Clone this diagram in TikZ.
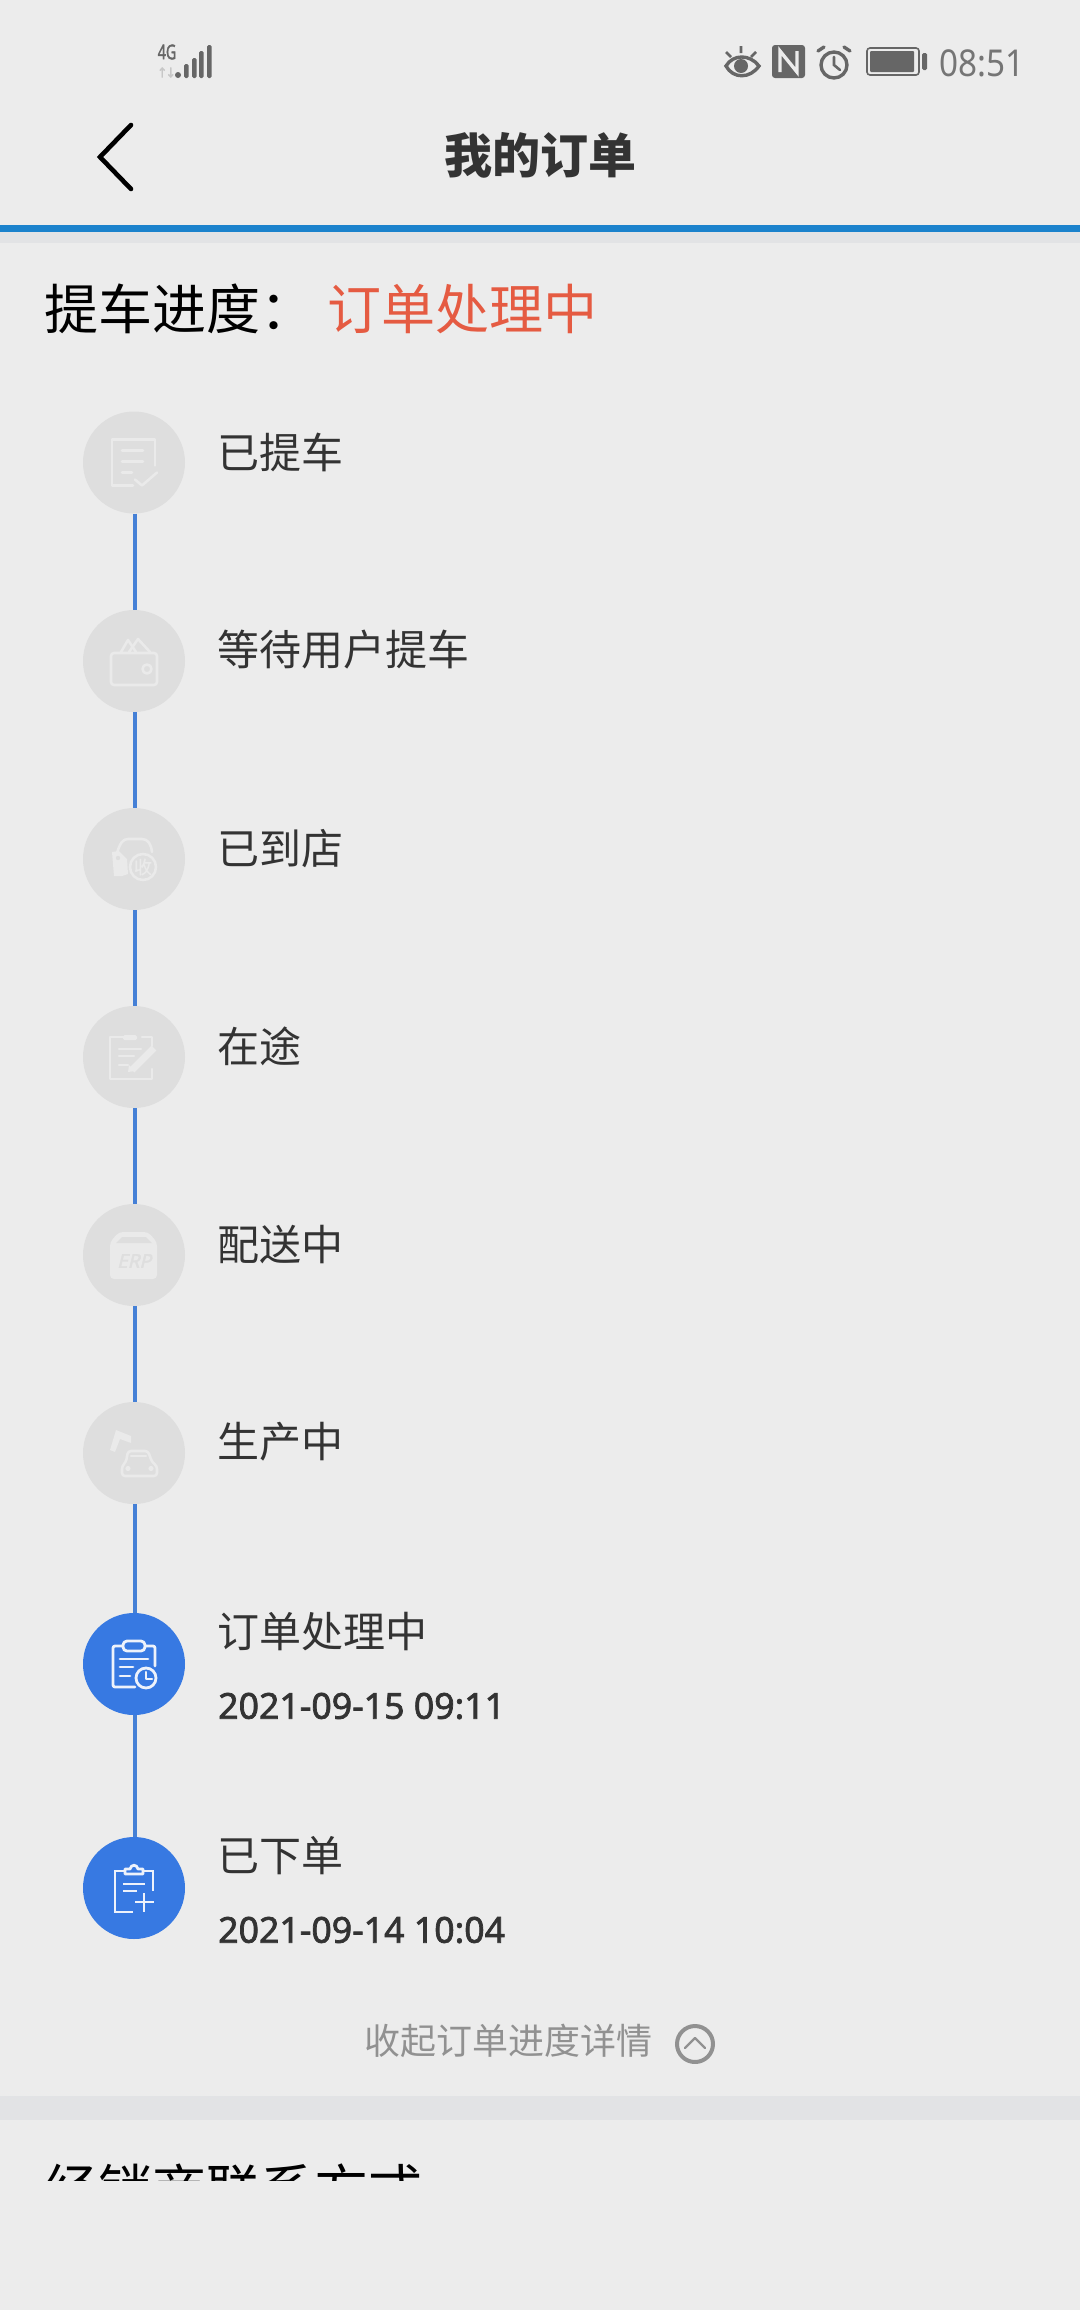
\documentclass[tikz,border=0pt]{standalone}
\usepackage{fontspec}
\setmainfont{Noto Sans CJK SC}
\newfontfamily\latinf{Noto Sans}
\newfontfamily\latinm{Noto Sans}[FakeBold=2]
\newfontfamily\latinerp{Noto Sans}[FakeBold=2,FakeSlant=0.25]
\newfontfamily\symbf{DejaVu Sans}[FakeBold=1.5]
\newfontfamily\sealf{Noto Sans CJK SC}[FakeBold=1]
\newcommand{\fs}[1]{\fontsize{#1}{#1}\selectfont}
\definecolor{bg}{HTML}{ECECEC}
\definecolor{band}{HTML}{E2E3E5}
\definecolor{topline}{HTML}{1B82CC}
\definecolor{doneblue}{HTML}{3779E2}
\definecolor{lineblue}{HTML}{4580D6}
\definecolor{pend}{HTML}{DEDEDE}
\definecolor{pendicon}{HTML}{EAEAEA}
\definecolor{donicon}{HTML}{EDF2FB}
\definecolor{txt}{HTML}{333333}
\definecolor{stat}{HTML}{666666}
\definecolor{redtxt}{HTML}{E55B42}
\tikzset{
  pendnode/.style={circle,fill=pend,minimum size=102pt,inner sep=0pt},
  donenode/.style={circle,fill=doneblue,minimum size=102pt,inner sep=0pt},
  tl/.style={draw=lineblue,line width=3.4pt},
  label/.style={anchor=west,inner sep=0pt,text=txt,font=\fs{42}},
  datelabel/.style={anchor=west,inner sep=0pt,text=txt,font=\latinm\fs{35.7}},
  ipen/.style={draw=pendicon,line width=2.6pt,line cap=round,line join=round},
  idone/.style={draw=donicon,line width=2.8pt,line cap=round,line join=round},
}
\begin{document}
\begin{tikzpicture}[x=1pt,y=-1pt]
\useasboundingbox (0,0) rectangle (1080,2310);
\fill[bg] (0,0) rectangle (1080,2310);
% header rules
\fill[band] (0,232) rectangle (1080,243);
\fill[topline] (0,225) rectangle (1080,232);
\fill[band] (0,2096) rectangle (1080,2120);

% status bar left
\node[inner sep=0pt,text=stat,font=\latinm\fs{15}] (fourg) at (167,52) {\scalebox{0.95}[1.35]{4G}};
\node[inner sep=0pt,text=black!22,font=\symbf\fs{13}] (updown) at (166.5,72.5) {\scalebox{0.95}[1.05]{↑\kern-2pt↓}};
\fill[stat] (178,75) circle (3);
\fill[stat,rounded corners=1.5pt] (184,64) rectangle (188.5,78);
\fill[stat,rounded corners=1.5pt] (192,58) rectangle (196.5,78);
\fill[stat,rounded corners=1.5pt] (199,51) rectangle (203.5,78);
\fill[stat,rounded corners=1.5pt] (207,45) rectangle (211.5,78);

% status bar right
\draw[stat,line width=3.4pt] (726,66) .. controls (733,54) and (750,54) .. (759,66) .. controls (750,79) and (733,79) .. (726,66) -- cycle;
\fill[stat] (741,66) circle (7);
\draw[stat,line width=2.6pt] (741,53)--(741,46) (731,57)--(726,52) (751,57)--(756,52);
\fill[stat,rounded corners=3pt] (772,45) rectangle (805,78);
\draw[bg,line width=3.4pt] (780,72)--(780,51)--(797,72)--(797,51);
\draw[stat,line width=3.4pt] (834,65) circle (13);
\draw[stat,line width=2.6pt,line cap=round] (834,57)--(834,65)--(840,70);
\draw[stat,line width=3.4pt,line cap=round] (818,51)--(824,47) (850,51)--(844,47);
\draw[stat,line width=1.6pt,rounded corners=3pt] (867,48) rectangle (919,75);
\fill[stat,rounded corners=1pt] (870,51) rectangle (914,72);
\fill[stat,rounded corners=1.5pt] (922,53) rectangle (927,70);
\node[inner sep=0pt,anchor=east,text=stat!90,font=\latinf\fs{37}] (clock) at (1025,63) {\scalebox{0.9}[1]{08:51}};

% navigation
\coordinate (chevA) at (131,125);
\coordinate (chevB) at (100,157);
\coordinate (chevC) at (131,189);
\draw[black,line width=4.6pt,line cap=round,line join=miter] (chevA)--(chevB)--(chevC);
\node[inner sep=0pt,text=txt,font=\bfseries\fs{48}] (title) at (540,155) {我的订单};

% progress header
\node[inner sep=0pt,anchor=west,text=black,font=\fs{54}] (proglabel) at (44,309) {提车进度：};
\node[inner sep=0pt,anchor=west,text=redtxt,font=\fs{54}] (progvalue) at (327,309) {订单处理中};

% timeline nodes
\node[pendnode] (n1) at (134,462.5) {};
\node[pendnode] (n2) at (134,661) {};
\node[pendnode] (n3) at (134,859) {};
\node[pendnode] (n4) at (134,1057) {};
\node[pendnode] (n5) at (134,1255) {};
\node[pendnode] (n6) at (134,1453) {};
\node[donenode] (n7) at (134,1664) {};
\node[donenode] (n8) at (134,1888) {};

% connectors
\foreach \a/\b in {n1/n2,n2/n3,n3/n4,n4/n5,n5/n6,n6/n7,n7/n8}
  \draw[tl] ([xshift=1pt]\a.south) -- ([xshift=1pt]\b.north);

% labels
\node[label] (t1) at (217.5,452) {已提车};
\node[label] (t2) at (217.5,650) {等待用户提车};
\node[label] (t3) at (217.5,849) {已到店};
\node[label] (t4) at (217.5,1046) {在途};
\node[label] (t5) at (217.5,1245) {配送中};
\node[label] (t6) at (217.5,1442) {生产中};
\node[label] (t7) at (217.5,1632) {订单处理中};
\node[datelabel] (d7) at (218,1706) {2021-09-15 09:11};
\node[label] (t8) at (217.5,1856) {已下单};
\node[datelabel] (d8) at (218,1930) {2021-09-14 10:04};

% icon 1: document with tick
\begin{scope}[shift={(n1.center)}]
\draw[ipen] (21,3)--(21,-23) -- (-22,-23) -- (-22,23) -- (-1,23);
\draw[ipen] (-12,-12)--(9,-12) (-12,-1)--(9,-1) (-12,10)--(-2,10);
\draw[ipen] (1,17)--(8,23)--(23,10);
\end{scope}
% icon 2: wallet
\begin{scope}[shift={(n2.center)}]
\draw[ipen,rounded corners=3pt] (-23,-8) rectangle (23,24);
\draw[ipen] (-13,-9)--(-6,-21)--(2,-9);
\draw[ipen] (-5,-9)--(4,-22)--(16,-9);
\draw[ipen] (13,8) circle (4.5);
\end{scope}
% icon 3: car with seal
\begin{scope}[shift={(n3.center)}]
\draw[ipen] (-17,-6) .. controls (-14,-16) and (-11,-20) .. (-6,-20) -- (8,-20) .. controls (14,-20) and (17,-15) .. (18,-7);
\fill[pendicon] (-22,-7) -- (-15,-8) -- (-7,0) -- (-6,15) -- (-12,17) -- (-20,17) -- cycle;
\fill[pend] (-16,-1) circle (2.2);
\draw[ipen] (9,8) circle (13);
\node[inner sep=0pt,text=pendicon,font=\sealf\fs{18}] (seal) at (9,8) {收};
\end{scope}
% icon 4: clipboard with pen
\begin{scope}[shift={(n4.center)}]
\draw[ipen] (-10,-20) -- (-24,-20) -- (-24,22) -- (18,22) -- (18,12);
\draw[ipen] (8,-20)--(18,-20)--(18,-11);
\fill[pendicon,rounded corners=1.5pt] (-11,-22) rectangle (3,-17);
\draw[ipen] (-15,-8)--(7,-8) (-15,-1)--(0,-1) (-15,8)--(-6,8);
\draw[pendicon,line width=7pt] (-2,13)--(20,-9);
\fill[pendicon] (-6,15) -- (-5,8) -- (1,14) -- cycle;
\end{scope}
% icon 5: ERP box
\begin{scope}[shift={(n5.center)}]
\fill[pendicon,rounded corners=4pt] (-24,-13) -- (-15,-23) -- (14,-23) -- (23,-13) -- (23,24) -- (-24,24) -- cycle;
\fill[pend] (-12,-18) -- (12,-18) -- (18,-12) -- (-18,-12) -- cycle;
\node[inner sep=0pt,text=pend,font=\latinerp\fs{19}] (erp) at (0,6) {ERP};
\end{scope}
% icon 6: robot arm and car
\begin{scope}[shift={(n6.center)}]
\fill[pendicon,line join=round] (-24,-3) -- (-18,-23) -- (-3,-17) -- (-3,-10) -- (-14,-14) -- (-19,-1) -- cycle;
\draw[ipen,rounded corners=3pt] (-6,-2) -- (14,-2) -- (18,9) -- (23,13) -- (23,23) -- (-12,23) -- (-12,13) -- (-8,9) -- cycle;
\draw[ipen] (-3,3) -- (12,3);
\fill[pendicon] (-6,15.5) circle (2.6) (17,15.5) circle (2.6);
\end{scope}
% icon 7: clipboard with clock
\begin{scope}[shift={(n7.center)}]
\draw[idone,rounded corners=2pt] (-11,-18) -- (-21,-18) -- (-21,23) -- (1,23);
\draw[idone,rounded corners=2pt] (11,-18) -- (21,-18) -- (21,2);
\draw[idone,rounded corners=4pt] (-11,-23) rectangle (11,-13);
\draw[idone] (-14,-5)--(14,-5) (-14,3)--(-1,3) (-14,12)--(-4,12);
\draw[idone] (12,14) circle (10);
\draw[idone,line width=2.2pt] (12,8)--(12,15)--(18,15);
\end{scope}
% icon 8: clipboard with plus
\begin{scope}[shift={(n8.center)}]
\draw[idone,line cap=butt,line join=miter] (-1,24) -- (-19,24) -- (-19,-17) -- (-9,-17);
\draw[idone,line cap=butt,line join=miter] (9,-17) -- (19,-17) -- (19,3);
\draw[idone,line cap=butt] (-9,-14) -- (-9,-19) -- (-4,-19) .. controls (-3,-24) and (3,-24) .. (4,-19) -- (9,-19) -- (9,-14) -- cycle;
\draw[idone,line cap=butt] (-11,-4)--(11,-4) (-11,3)--(3,3);
\draw[idone,line cap=butt] (1,14)--(20,14) (10,5)--(10,24);
\end{scope}

% collapse link
\node[inner sep=0pt,anchor=west,text=black!43,font=\fs{36}] (collapse) at (364.5,2041) {收起订单进度详情};
\begin{scope}
\clip (670,2020) rectangle (720,2063);
\node[circle,draw=black!43,line width=4pt,minimum size=36pt,inner sep=0pt] (collapseicon) at (695,2044) {};
\draw[black!43,line width=2.2pt,line cap=round,line join=round] (685,2048)--(695,2038)--(705,2048);
\end{scope}

% clipped section heading
\begin{scope}
\clip (0,2150) rectangle (1080,2180);
\node[inner sep=0pt,anchor=west,text=black,font=\fs{54}] (dealer) at (44,2189) {经销商联系方式};
\end{scope}
\end{tikzpicture}
\end{document}
